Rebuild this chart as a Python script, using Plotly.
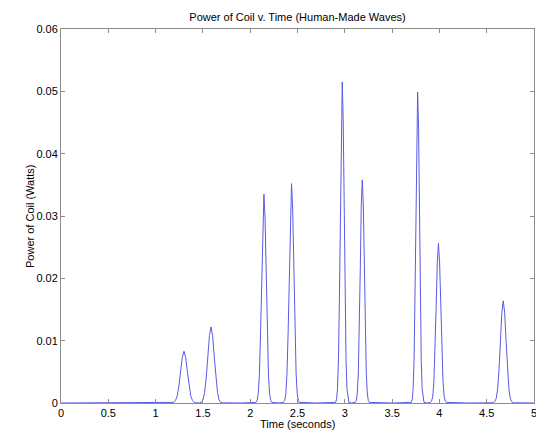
import plotly.graph_objects as go

# Traced curve: time (s) and power (W)
time_s = [
    0.0, 1.0, 1.174, 1.192, 1.210, 1.228, 1.246, 1.264, 1.282, 1.300, 1.318, 1.336, 1.354, 1.372, 1.390, 1.408, 1.426,
    1.445,
    1.467, 1.484, 1.501, 1.518, 1.535, 1.552, 1.569, 1.586, 1.603, 1.620, 1.637, 1.654, 1.671, 1.688, 1.705,
    1.900,
    2.061, 2.073, 2.085, 2.097, 2.109, 2.121, 2.133, 2.145, 2.157, 2.169, 2.181, 2.193, 2.205, 2.217, 2.229,
    2.300,
    2.353, 2.365, 2.377, 2.389, 2.401, 2.413, 2.425, 2.437, 2.449, 2.461, 2.473, 2.485, 2.497, 2.509, 2.521,
    2.700,
    2.903, 2.913, 2.923, 2.933, 2.943, 2.953, 2.963, 2.973, 2.983, 2.993, 3.003, 3.013, 3.023, 3.033, 3.043,
    3.070,
    3.111, 3.122, 3.132, 3.143, 3.153, 3.164, 3.174, 3.185, 3.196, 3.206, 3.217, 3.227, 3.238, 3.248, 3.259,
    3.500,
    3.703, 3.713, 3.722, 3.732, 3.741, 3.751, 3.760, 3.770, 3.780, 3.789, 3.799, 3.808, 3.818, 3.827, 3.837,
    3.870,
    3.906, 3.918, 3.930, 3.942, 3.954, 3.966, 3.978, 3.990, 4.002, 4.014, 4.026, 4.038, 4.050, 4.062, 4.074,
    4.300,
    4.570, 4.585, 4.600, 4.615, 4.630, 4.645, 4.660, 4.675, 4.690, 4.705, 4.720, 4.735, 4.750, 4.765, 4.780,
    5.0,
]
power_w = [
    0.0, 0.0, 0.00002, 0.0001, 0.0004, 0.0011, 0.0027, 0.0050, 0.0073, 0.0083, 0.0073, 0.0050, 0.0027, 0.0011, 0.0004, 0.0001, 0.00002,
    0.0,
    0.00003, 0.0001, 0.0005, 0.0017, 0.0040, 0.0074, 0.0108, 0.0122, 0.0108, 0.0074, 0.0040, 0.0017, 0.0005, 0.0001, 0.00003,
    0.0,
    0.0001, 0.0004, 0.0015, 0.0045, 0.0109, 0.0203, 0.0296, 0.0335, 0.0296, 0.0203, 0.0109, 0.0045, 0.0015, 0.0004, 0.0001,
    0.0,
    0.0001, 0.0004, 0.0015, 0.0048, 0.0114, 0.0213, 0.0311, 0.0352, 0.0311, 0.0213, 0.0114, 0.0048, 0.0015, 0.0004, 0.0001,
    0.0,
    0.0001, 0.0006, 0.0023, 0.0070, 0.0167, 0.0312, 0.0454, 0.0515, 0.0454, 0.0312, 0.0167, 0.0070, 0.0023, 0.0006, 0.0001,
    0.0,
    0.0001, 0.0004, 0.0016, 0.0048, 0.0116, 0.0217, 0.0316, 0.0358, 0.0316, 0.0217, 0.0116, 0.0048, 0.0016, 0.0004, 0.0001,
    0.0,
    0.0001, 0.0006, 0.0022, 0.0068, 0.0162, 0.0303, 0.0440, 0.0499, 0.0440, 0.0303, 0.0162, 0.0068, 0.0022, 0.0006, 0.0001,
    0.0,
    0.0001, 0.0003, 0.0011, 0.0035, 0.0083, 0.0155, 0.0226, 0.0256, 0.0226, 0.0155, 0.0083, 0.0035, 0.0011, 0.0003, 0.0001,
    0.0,
    0.00004, 0.0002, 0.0007, 0.0022, 0.0053, 0.0099, 0.0145, 0.0164, 0.0145, 0.0099, 0.0053, 0.0022, 0.0007, 0.0002, 0.00004,
    0.0,
]

x_ticks = [0, 0.5, 1, 1.5, 2, 2.5, 3, 3.5, 4, 4.5, 5]
x_tick_labels = ["0", "0.5", "1", "1.5", "2", "2.5", "3", "3.5", "4", "4.5", "5"]
y_ticks = [0, 0.01, 0.02, 0.03, 0.04, 0.05, 0.06]
y_tick_labels = ["0", "0.01", "0.02", "0.03", "0.04", "0.05", "0.06"]

FONT = "Liberation Sans, Arial, sans-serif"
AXIS_GRAY = "#8c8c8c"
W, H = 536, 431
ML, MR, MT, MB = 61, 2, 29, 28
PW, PH = W - ML - MR, H - MT - MB

fig = go.Figure()
fig.add_trace(go.Scatter(
    x=time_s, y=power_w, mode="lines",
    line=dict(color="#5a5ae4", width=1),
    showlegend=False, hoverinfo="skip",
))

axis_common = dict(
    showline=True, linecolor=AXIS_GRAY, linewidth=1, mirror="ticks",
    ticks="inside", ticklen=4, tickcolor=AXIS_GRAY, tickwidth=1,
    showgrid=False, zeroline=False, automargin=False,
    ticklabeloverflow="allow",
    tickfont=dict(family=FONT, size=11, color="black"),
)

fig.update_layout(
    width=W, height=H,
    margin=dict(l=ML, r=MR, t=MT, b=MB, autoexpand=False),
    paper_bgcolor="white", plot_bgcolor="white",
    title=dict(
        text="Power of Coil v. Time (Human-Made Waves)",
        x=(ML + PW / 2) / W, xanchor="center", y=1 - 13 / H, yanchor="top",
        font=dict(family=FONT, size=11, color="black"),
    ),
    xaxis=dict(range=[0, 5], tickvals=x_ticks, ticktext=x_tick_labels, **axis_common),
    yaxis=dict(range=[0, 0.06], tickvals=y_ticks, ticktext=y_tick_labels, **axis_common),
    annotations=[
        dict(text="Time (seconds)", xref="paper", yref="paper",
             x=0.5, y=-(424 - (H - MB)) / PH, xanchor="center", yanchor="middle",
             showarrow=False, font=dict(family=FONT, size=11, color="black")),
        dict(text="Power of Coil (Watts)", xref="paper", yref="paper",
             x=-(ML - 30) / PW, y=0.5, xanchor="center", yanchor="middle", textangle=-90,
             showarrow=False, font=dict(family=FONT, size=11, color="black")),
    ],
)

fig.write_html(
    "out.html",
    config={"displayModeBar": False},
    post_script="document.body.style.margin='0';document.body.style.padding='0';document.body.style.overflow='hidden';",
)
